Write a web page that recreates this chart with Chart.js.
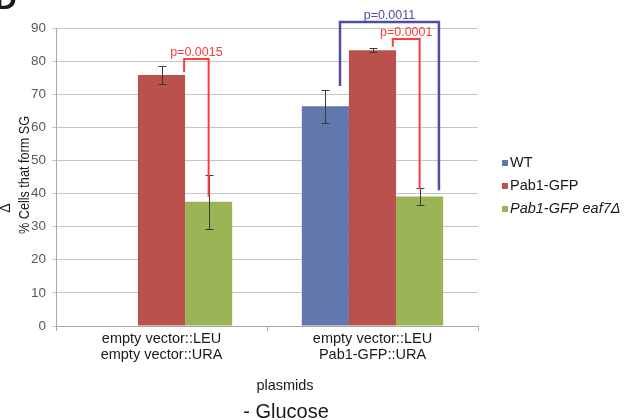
<!DOCTYPE html>
<html>
<head>
<meta charset="utf-8">
<script src="https://cdn.jsdelivr.net/npm/chart.js@4"></script>
<style>
  html, body { margin: 0; padding: 0; background: #ffffff; }
  #wrap { width: 634px; height: 420px; }
</style>
</head>
<body>
<div id="wrap"><canvas id="c" width="634" height="420"></canvas></div>
<script>
// Plasmid combinations (two-line category labels)
const categories = [
  ["empty vector::LEU", "empty vector::URA"],
  ["empty vector::LEU", "Pab1-GFP::URA"]
];
const seriesNames = ["WT", "Pab1-GFP", "Pab1-GFP eaf7\u0394"];
const yTitle = "% Cells that form SG";

// % cells that form stress granules, per strain
const wtValues   = [null, 66.4];
const pab1Values = [75.8, 83.3];
const eaf7Values = [37.5, 39.1];

// error bar half-lengths
const wtErrors   = [null, 5.0];
const pab1Errors = [2.7, 0.6];
const eaf7Errors = [8.2, 2.5];

// y tick values
const yTicks = [0, 10, 20, 30, 40, 50, 60, 70, 80, 90];

// significance labels
const pLabels = ["p=0.0015", "p=0.0001", "p=0.0011"];
// bracket heights in % (top bar, left leg end, right leg end)
const bracketTops  = [80.6, 86.7, 91.8];
const bracketLeft  = [76.7, 84.3, 72.5];
const bracketRight = [39.0, 41.4, 41.0];

const FONT = "'Liberation Sans', Arial, sans-serif";
const colors = ["#6178ae", "#ba514d", "#9bb556"];

// bracket anchors: dataset / category index plus offset in bar widths
const brackets = [
  { from: [1, 0, 0.48], to: [2, 0, 0.0], color: "#ff3b3b", width: 2 },
  { from: [1, 1, 0.43], to: [2, 1, 0.0], color: "#ff3b3b", width: 2 },
  { from: [0, 1, 0.31], to: [2, 1, 0.41], color: "#4e4ea2", width: 2.5 }
].map((b, i) => Object.assign(b, {
  label: pLabels[i], top: bracketTops[i], leftEnd: bracketLeft[i], rightEnd: bracketRight[i]
}));

const errorSets = [wtErrors, pab1Errors, eaf7Errors];

const overlay = {
  id: "overlay",
  afterDatasetsDraw(chart) {
    const ctx = chart.ctx;
    const ys = chart.scales.y;
    // error bars
    errorSets.forEach((errs, di) => {
      const meta = chart.getDatasetMeta(di);
      errs.forEach((e, i) => {
        const v = chart.data.datasets[di].data[i];
        if (v == null || e == null) return;
        const bar = meta.data[i];
        const x = Math.round(bar.x) + 0.5;
        const yt = Math.round(ys.getPixelForValue(v + e)) + 0.5;
        const yb = Math.round(ys.getPixelForValue(v - e)) + 0.5;
        ctx.save();
        ctx.strokeStyle = "#3a3a3a";
        ctx.lineWidth = 1;
        ctx.beginPath();
        ctx.moveTo(x, yt); ctx.lineTo(x, yb);
        ctx.moveTo(x - 4, yt); ctx.lineTo(x + 4, yt);
        ctx.moveTo(x - 4, yb); ctx.lineTo(x + 4, yb);
        ctx.stroke();
        ctx.restore();
      });
    });
    // significance brackets
    brackets.forEach(b => {
      const bf = chart.getDatasetMeta(b.from[0]).data[b.from[1]];
      const bt = chart.getDatasetMeta(b.to[0]).data[b.to[1]];
      const x1 = bf.x + b.from[2] * bf.width;
      const x2 = bt.x + b.to[2] * bt.width;
      const yTop = ys.getPixelForValue(b.top);
      const y1 = ys.getPixelForValue(b.leftEnd);
      const y2 = ys.getPixelForValue(b.rightEnd);
      ctx.save();
      ctx.strokeStyle = b.color;
      ctx.lineWidth = b.width;
      ctx.lineJoin = "miter";
      ctx.beginPath();
      ctx.moveTo(x1, y1); ctx.lineTo(x1, yTop); ctx.lineTo(x2, yTop); ctx.lineTo(x2, y2);
      ctx.stroke();
      ctx.fillStyle = b.color;
      ctx.font = "12.5px " + FONT;
      ctx.textAlign = "center";
      ctx.textBaseline = "alphabetic";
      ctx.fillText(b.label, (x1 + x2) / 2, yTop - 3);
      ctx.restore();
    });
  },
  afterDraw(chart) {
    const ctx = chart.ctx;
    const area = chart.chartArea;
    ctx.save();
    // legend
    chart.data.datasets.forEach((ds, i) => {
      const cy = area.top + 135 + i * 23;
      ctx.fillStyle = ds.backgroundColor;
      ctx.fillRect(area.right + 24, cy - 3, 6, 6);
      ctx.fillStyle = "#1a1a1a";
      ctx.font = (i === 2 ? "italic " : "") + "14.5px " + FONT;
      ctx.textAlign = "left";
      ctx.textBaseline = "middle";
      ctx.fillText(ds.label, area.right + 32, cy);
    });
    // axis caption and condition
    ctx.fillStyle = "#1a1a1a";
    ctx.textAlign = "center";
    ctx.textBaseline = "alphabetic";
    ctx.font = "14.5px " + FONT;
    ctx.fillText("plasmids", area.left + 229, 390);
    ctx.font = "20px " + FONT;
    ctx.fillText("- Glucose", area.left + 230, 418);
    // panel letter
    ctx.textAlign = "left";
    ctx.font = "bold 30px " + FONT;
    ctx.fillText("D", -5, 9);
    ctx.restore();

    // rotated, slightly condensed y-axis title
    ctx.save();
    ctx.fillStyle = "#1a1a1a";
    ctx.font = "15px " + FONT;
    ctx.translate(28.5, 175);
    ctx.rotate(-Math.PI / 2);
    const w = ctx.measureText(yTitle).width;
    ctx.scale(118 / w, 1);
    ctx.textAlign = "center";
    ctx.textBaseline = "alphabetic";
    ctx.fillText(yTitle, 0, 0);
    ctx.restore();

    // edge of the neighbouring panel's axis title
    ctx.save();
    ctx.fillStyle = "#1a1a1a";
    ctx.font = "14px " + FONT;
    ctx.translate(10, 208);
    ctx.rotate(-Math.PI / 2);
    ctx.textAlign = "center";
    ctx.fillText("\u0394", 0, 0);
    ctx.restore();
  }
};

new Chart(document.getElementById("c"), {
  type: "bar",
  data: {
    labels: categories,
    datasets: [
      { label: seriesNames[0], data: wtValues,   backgroundColor: colors[0] },
      { label: seriesNames[1], data: pab1Values, backgroundColor: colors[1] },
      { label: seriesNames[2], data: eaf7Values, backgroundColor: colors[2] }
    ]
  },
  options: {
    responsive: false,
    devicePixelRatio: 1,
    animation: false,
    layout: { padding: { top: 28, right: 156, left: 0, bottom: 0 } },
    datasets: { bar: { categoryPercentage: 0.67, barPercentage: 1.0 } },
    plugins: { legend: { display: false }, tooltip: { enabled: false } },
    scales: {
      x: {
        afterFit(s) { s.height = 94; },
        grid: { offset: true, drawOnChartArea: false, tickLength: 5, color: "#a9a9a9" },
        border: { color: "#a9a9a9" },
        ticks: { color: "#1a1a1a", padding: 0, font: { family: FONT, size: 14.5, lineHeight: 1.12 } }
      },
      y: {
        min: 0, max: 90,
        afterFit(s) { s.width = 56; },
        afterBuildTicks(s) { s.ticks = yTicks.map(v => ({ value: v })); },
        grid: { color: "#c6c6c6", tickLength: 4 },
        border: { color: "#a9a9a9" },
        ticks: { color: "#595959", padding: 6, font: { family: FONT, size: 13.5 } },
        title: { display: false }
      }
    }
  },
  plugins: [overlay]
});
</script>
</body>
</html>
